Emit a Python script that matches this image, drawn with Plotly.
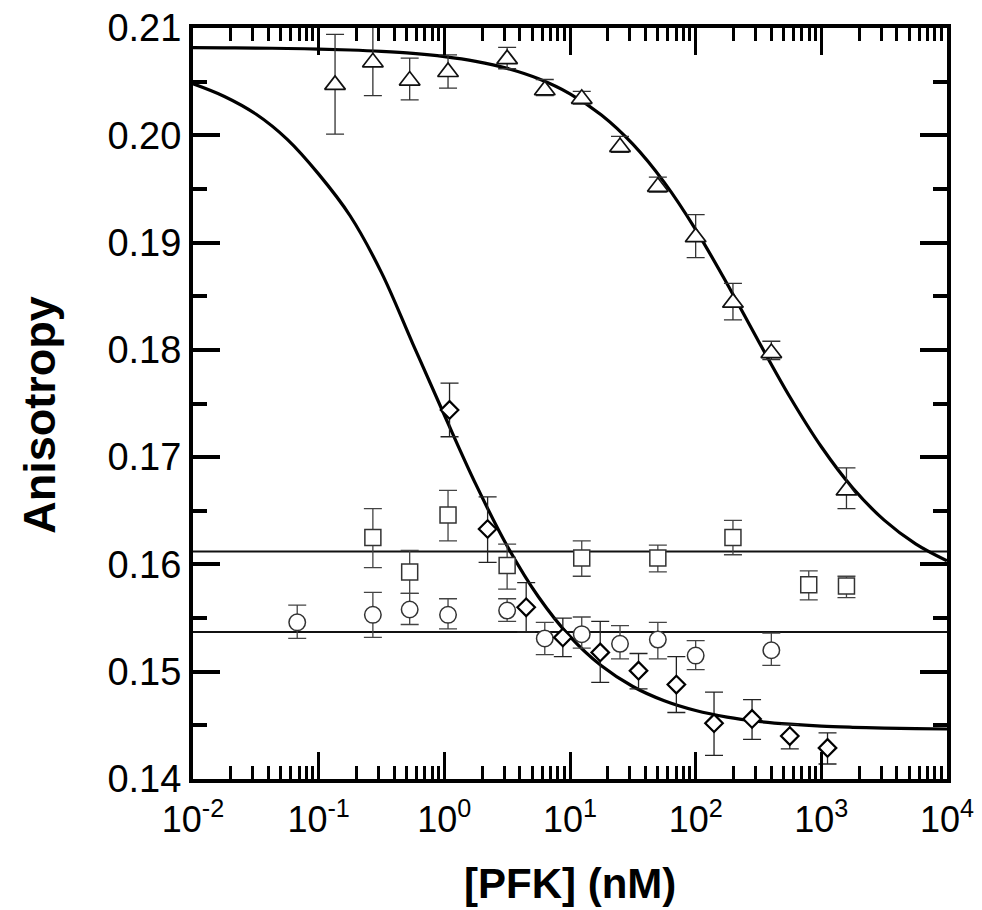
import plotly.graph_objects as go

# ---------------- data ----------------
# Triangles
tri_x = [0.135, 0.27, 0.53, 1.07, 3.16, 6.3, 12.4, 25, 50, 100, 198, 400, 1585]
tri_y = [0.2047, 0.2068, 0.2051, 0.2059, 0.2071, 0.2042, 0.2034, 0.1989, 0.1952, 0.1905, 0.1844, 0.1797, 0.1669]
tri_ep = [0.0047, 0.0033, 0.0021, 0.0016, 0.0011, 0.0010, 0.0007, 0.0010, 0.0009, 0.0021, 0.0018, 0.0011, 0.0021]
tri_em = [0.0046, 0.0031, 0.0018, 0.0015, 0.0009, 0.0005, 0.0005, 0.0005, 0.0005, 0.0019, 0.0016, 0.0006, 0.0017]

# Squares
sq_x = [0.27, 0.53, 1.07, 3.16, 12.4, 50, 198, 794, 1585]
sq_y = [0.1625, 0.1593, 0.1646, 0.1599, 0.1606, 0.1606, 0.1625, 0.1581, 0.1580]
sq_ep = [0.0027, 0.0020, 0.0023, 0.0020, 0.0016, 0.0012, 0.0016, 0.0013, 0.0009]
sq_em = [0.0028, 0.0020, 0.0024, 0.0022, 0.0017, 0.0013, 0.0016, 0.0014, 0.0011]

# Circles
ci_x = [0.0675, 0.27, 0.53, 1.07, 3.16, 6.3, 12.4, 25, 50, 100, 400]
ci_y = [0.1546, 0.1553, 0.1558, 0.1553, 0.1557, 0.1531, 0.1535, 0.1526, 0.1530, 0.1515, 0.1520]
ci_ep = [0.0016, 0.0021, 0.0015, 0.0015, 0.0011, 0.0015, 0.0016, 0.0017, 0.0016, 0.0014, 0.0016]
ci_em = [0.0015, 0.0021, 0.0014, 0.0013, 0.0010, 0.0015, 0.0013, 0.0014, 0.0018, 0.0013, 0.0014]

# Diamonds
di_x = [1.1, 2.21, 4.48, 8.77, 17.4, 35.1, 70.2, 140, 281, 561, 1120]
di_y = [0.1744, 0.1633, 0.1560, 0.1532, 0.1518, 0.1501, 0.1488, 0.1452, 0.1456, 0.1440, 0.1429]
di_ep = [0.0025, 0.0030, 0.0023, 0.0018, 0.0029, 0.0016, 0.0026, 0.0029, 0.0018, 0.0011, 0.0014]
di_em = [0.0025, 0.0031, 0.0023, 0.0018, 0.0028, 0.0017, 0.0026, 0.0030, 0.0019, 0.0012, 0.0015]

# Fitted curves (every quarter decade)
fit_logx = [-2.0, -1.75, -1.5, -1.25, -1.0, -0.75, -0.5, -0.25, 0.0, 0.25, 0.5, 0.75,
            1.0, 1.25, 1.5, 1.75, 2.0, 2.25, 2.5, 2.75, 3.0, 3.25, 3.5, 3.75, 4.0]
fit_tri = [0.20817, 0.20815, 0.20813, 0.20809, 0.20804, 0.20795, 0.20782, 0.20763, 0.20733,
           0.20689, 0.20624, 0.20527, 0.20387, 0.20189, 0.19917, 0.19561, 0.19121, 0.18616,
           0.18081, 0.17561, 0.17097, 0.16712, 0.16413, 0.16192, 0.16034]
fit_di = [0.2048, 0.20362, 0.20198, 0.19962, 0.19638, 0.1925, 0.1872, 0.18054, 0.17393,
          0.16748, 0.16172, 0.15696, 0.15327, 0.15055, 0.14862, 0.14729, 0.14638, 0.14577,
          0.14537, 0.14511, 0.14493, 0.14482, 0.14474, 0.14469, 0.14466]

# Constant fits (horizontal lines)
flat_sq = 0.1612
flat_ci = 0.1537

x_range_vals = [0.01, 10000]
x_tickvals = [0.01, 0.1, 1, 10, 100, 1000, 10000]
x_ticktext = ["10<sup>-2</sup>", "10<sup>-1</sup>", "10<sup>0</sup>", "10<sup>1</sup>",
              "10<sup>2</sup>", "10<sup>3</sup>", "10<sup>4</sup>"]

# ---------------- figure ----------------
FONT = "Liberation Sans, Arial, Helvetica, sans-serif"
fit_x = [10 ** v for v in fit_logx]
minor_x = [m * 10 ** e for e in range(-2, 4) for m in range(2, 10)]

fig = go.Figure()

for yv in (flat_sq, flat_ci):
    fig.add_trace(go.Scatter(x=x_range_vals, y=[yv, yv], mode="lines",
                             line=dict(color="#111", width=2), showlegend=False, hoverinfo="skip"))

for yy in (fit_tri, fit_di):
    fig.add_trace(go.Scatter(x=fit_x, y=yy, mode="lines",
                             line=dict(color="black", width=3.2, shape="spline", smoothing=1.0),
                             showlegend=False, hoverinfo="skip"))

def pts(x, y, ep, em, symbol, size, lw, lcol, ecol):
    return go.Scatter(
        x=x, y=y, mode="markers", showlegend=False,
        marker=dict(symbol=symbol, size=size, color="white", line=dict(color=lcol, width=lw)),
        error_y=dict(type="data", array=ep, arrayminus=em, symmetric=False,
                     color=ecol, thickness=1.3, width=9),
    )

fig.add_trace(pts(sq_x, sq_y, sq_ep, sq_em, "square", 16, 1.5, "#333", "#444"))
fig.add_trace(pts(ci_x, ci_y, ci_ep, ci_em, "circle", 16.5, 1.5, "#333", "#444"))
fig.add_trace(pts(tri_x, tri_y, tri_ep, tri_em, "triangle-up", 18, 1.7, "#111", "#333"))
fig.add_trace(pts(di_x, di_y, di_ep, di_em, "diamond", 13.5, 2.2, "black", "#222"))

fig.update_xaxes(
    type="log", range=[-2, 4],
    tickmode="array", tickvals=x_tickvals, ticktext=x_ticktext,
    ticks="inside", ticklen=27, tickwidth=3, tickcolor="black",
    minor=dict(tickmode="array", tickvals=minor_x, ticks="inside", ticklen=13,
               tickwidth=2.5, tickcolor="black", showgrid=False),
    showline=True, linewidth=4, linecolor="black", mirror="ticks",
    showgrid=False, zeroline=False,
    ticklabelstandoff=6, ticklabeloverflow="allow",
    tickfont=dict(family=FONT, size=36, color="black"),
)
fig.update_yaxes(
    range=[0.14, 0.21], dtick=0.01, tick0=0.14, tickformat=".2f",
    ticks="inside", ticklen=27, tickwidth=4, tickcolor="black",
    minor=dict(dtick=0.005, tick0=0.14, ticks="inside", ticklen=14, tickwidth=4,
               tickcolor="black", showgrid=False),
    showline=True, linewidth=4, linecolor="black", mirror="ticks",
    showgrid=False, zeroline=False,
    ticklabeloverflow="allow",
    tickfont=dict(family=FONT, size=38, color="black"),
)

fig.add_annotation(text="<b>[PFK] (nM)</b>", xref="paper", yref="paper",
                   x=0.5, y=-0.139, xanchor="center", yanchor="middle", showarrow=False,
                   font=dict(family=FONT, size=42, color="black"))
fig.add_annotation(text="<b>Anisotropy</b>", xref="paper", yref="paper",
                   x=-0.203, y=0.485, xanchor="center", yanchor="middle", showarrow=False,
                   textangle=-90, font=dict(family=FONT, size=45, color="black"))

# page body has an 8 px margin; sizes chosen so the plot area lands where the reference has it
fig.update_layout(
    width=974, height=902,
    margin=dict(l=185, r=35, t=20, b=131, autoexpand=False),
    paper_bgcolor="white", plot_bgcolor="white",
    showlegend=False,
)

fig.write_html("out.html")
